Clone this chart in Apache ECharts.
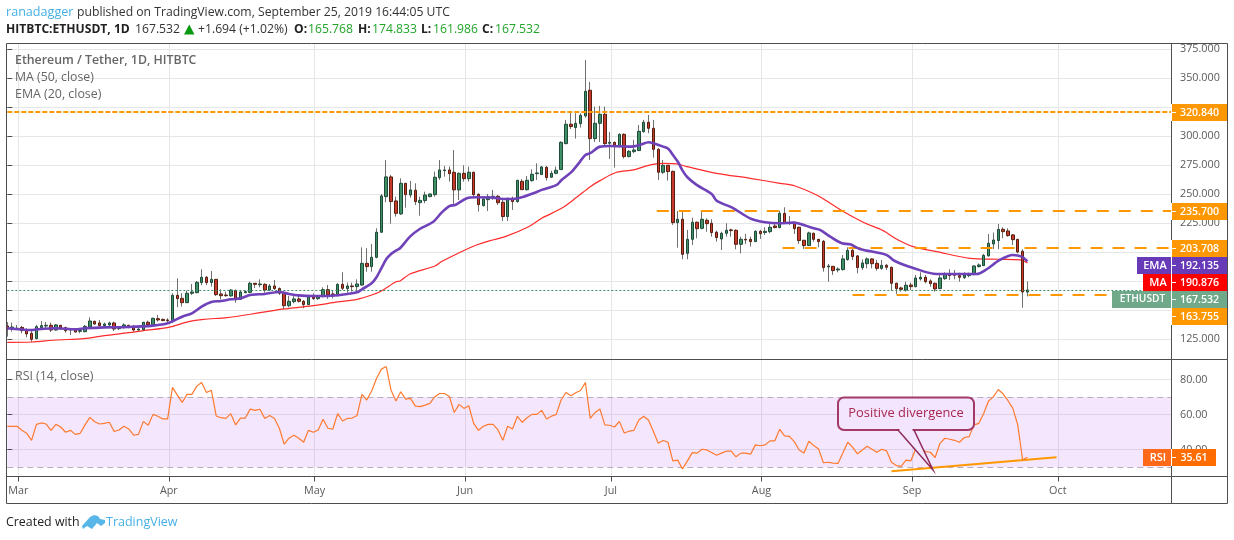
<!DOCTYPE html>
<html><head><meta charset="utf-8">
<style>html,body{margin:0;padding:0;background:#fff}#c{width:1234px;height:540px}</style>
<script src="https://cdn.jsdelivr.net/npm/echarts@6/dist/echarts.min.js"></script>
</head><body><div id="c"></div>
<script>
// ---- values ----
// the x axis counts days from 27 Feb 2019
const lastShownDay = 239.55;
const monthStartDays = [2,33,63,94,124,155,186,216];
const monthNames = ['Mar','Apr','May','Jun','Jul','Aug','Sep','Oct'];
const priceTicks = [125,150,175,200,225,250,275,300,325,350,375];
const priceTickLabels = [125,150,175,200,225,250,275,300,350,375];
const rsiTicks = [40,60,80];
// daily open, close, low, high
const ohlc = [
[136.5,133.9,127.3,139.9],[133.9,135.6,131.6,139.4],[133.9,134.5,133,137.4],[135.3,132.5,130.2,136.5],[133,129.6,126.7,134.5],
[130.2,125,122.7,133],[125.6,135.9,125,137.4],[135.1,136.8,133,140.8],[136.5,137.1,134.5,139.9],[137.1,133,131.3,139.4],
[133,137.4,132.5,138.2],[137.1,134.5,133,137.1],[135.1,132.5,130.7,135.9],[133,133.6,128.7,134.5],[133.3,131.3,130.7,134.5],
[131.9,132.5,130.2,134.5],[131.6,136.2,131,137.4],[135.6,140.8,134.5,144],[140.5,138.2,137.4,141.1],[139.1,136.8,135.3,141.7],
[136.8,138.2,135.9,139.4],[137.4,139.1,135.3,140.2],[139.1,133.9,132.2,140.2],[134.2,135.3,133,136.5],[135.1,137.4,134.2,138.8],
[137.1,135.3,134.5,137.4],[136.2,133,131.6,137.4],[133,133.9,132.5,134.5],[133.3,139.7,132.5,139.9],[139.7,137.4,136.5,141.1],
[137.4,143.1,137.1,143.7],[142.8,141.7,140.2,146],[142.2,141.1,140.8,142.8],[141.7,141.1,138.2,143.1],[140.2,162.9,139.4,164.7],
[162.9,160.1,152.6,177.6],[160.3,156.6,153.2,164.7],[156.6,164.7,156.6,167],[164.7,165.8,163.2,172.7],[165.2,174.1,164.7,175.3],
[173.9,178.5,171.6,185.4],[178.5,173.9,171.8,179.6],[173.9,176.7,170.4,183.9],[176.7,163.5,162.4,176.7],[164.1,162.6,159.5,168.1],
[163.2,162.6,161.8,166.1],[162.4,167.5,161.8,168.1],[167,159.2,156.6,168.1],[159.5,165.8,158.9,166.7],[165.2,166.1,164.7,167],
[165.5,173.3,164.7,174.7],[173.3,172.4,169.3,173.3],[172.1,172.7,169.8,176.7],[172.4,167.5,165.2,173.3],[167.5,171,167,172.7],
[171,168.7,167.5,176.2],[168.7,164.7,163.2,169.8],[164.7,154,150.9,166.1],[154,157.8,152.6,162.4],[157.5,159.8,156,162.4],
[159.8,157.8,156.6,163.2],[157.8,154.9,151.7,158.9],[154.9,162.1,154.6,163.2],[162.1,160.1,158.9,164.7],[160.1,161.8,158.9,162.9],
[161.8,167.8,161.2,169.8],[167.8,163.2,159.8,171.8],[164.1,162.4,160.3,167],[162.9,172.4,161.8,173.3],[172.4,169,167.5,182.8],
[168.7,171,165.2,173.9],[171,170.4,166.1,173.9],[170.4,172.7,166.1,176.7],[171.8,190.5,171,204.3],[190.5,187.7,183.3,203.5],
[187.7,195.7,183.3,207.2],[195.7,217.3,194.8,220.7],[217.3,248.6,217,250.3],[248,265,243.1,279.6],[265,243.7,224.7,266.7],
[244.3,233.6,230.8,248],[233.1,259.5,232.2,263.8],[259.5,249.7,238.5,259.5],[249.4,253.8,247.1,261.5],[253.5,243.7,240.8,259.5],
[242.8,244.8,231.6,248],[244.6,249.4,242.3,252.3],[248,250.3,247.5,250.5],[249.7,264.7,248,269.6],[264.4,271,262.4,279.6],
[270.4,271,265.2,274.4],[271,267.8,260.9,273.9],[269,253.8,240.8,288.2],[253.8,268.1,245.1,268.7],[268.1,263.5,260.9,275],
[263.5,269,260.9,273.9],[269,249.7,248,269.6],[250,241.1,235.1,250.9],[240.2,246,239.4,248],[245.4,248,235.6,250.3],
[247.4,248.3,245.1,253.8],[248.3,242.8,240.8,249.4],[243.1,230.8,227,245.1],[230.8,246.6,227,247.1],[246.6,243.7,236.5,248],
[243.7,262.1,242.8,262.4],[261.2,254,253.8,263],[254,262.1,253.2,265.8],[261.8,267.3,260.9,271.6],[267.8,268.4,262.4,276.7],
[267,273.6,266.7,274.4],[273.3,264.4,261.8,274.4],[264.7,268.1,264.1,270.4],[268.1,270.7,267.3,273.9],[271.3,294.8,271,295.7],
[293.7,310.4,293.1,314.1],[310.4,308.4,306.3,321.9],[307.5,311.2,298,319.9],[310.9,318.1,307.5,319.9],[317.6,338.8,316.1,365.8],
[339.7,298,279.6,346.9],[298,311.2,295.1,325.6],[311.2,319,295.1,326.2],[319,293.7,291.1,325.6],[294,294.8,280.5,303.8],
[294.8,291.4,273,295.4],[291.1,301.7,290.5,302.6],[301.7,282.5,280.8,302.6],[282.5,287.1,281.9,288.2],[286.8,288.2,285.4,296.9],
[287.7,304.3,287.4,309.8],[304,312.1,303.2,314.1],[312.1,306.9,302.6,318.4],[306.9,288.8,281.6,314.1],[288.8,269,262.4,289.7],
[269,275,267.5,279.6],[275,269.6,261.8,275.3],[269.8,225.6,223.6,270.4],[225.6,228.5,204,235.6],[228.5,198.3,194,235],
[199.1,211.2,194,219.3],[211.2,225.9,206.3,229.9],[225.9,220.4,212.1,226.5],[220.7,228.5,219.8,236.5],[227.6,224.7,217.8,229.3],
[225,217,213.5,228.5],[217.3,212.7,209.2,218.7],[211.5,216.4,202,217.8],[216.4,219,213.5,225],[219.3,218.7,213.5,220.4],
[219,206.9,202.6,219.8],[206.9,211.2,199.1,213.5],[211.2,210.6,207.2,215.8],[211.2,209.2,204.9,213.5],[209.2,218.1,208.9,219],
[218.1,216.1,211.5,219.3],[217,218.1,215,221.6],[217.8,221.6,216.4,224.4],[222.7,221.3,220.7,225.6],[221.3,233.6,220.7,235.9],
[233.6,225.3,224.4,238.8],[225.6,225,223.6,231.3],[225.6,220.4,215.8,226.5],[221.6,210.1,207.2,222.1],[210.4,205.8,202.9,210.6],
[205.8,216.7,205.5,217.8],[216.4,211.2,209.2,217],[211.2,209.2,204.3,211.5],[209.5,186.8,183.3,210.6],[187.4,188.2,174.7,190],
[187.9,184.2,180.5,188.2],[184.8,185.6,182.8,187.1],[185.1,194.3,184.2,197.7],[193.7,201.7,192.8,204.3],[201.7,196.3,193.4,203.2],
[196.9,186.8,181.9,197.7],[186.8,190.8,184.8,194],[190.2,194.3,186.2,195.7],[194.3,190.2,186.2,194.8],[190.5,186.2,184.2,193.4],
[186.2,188.8,184.8,193.4],[188.8,187.1,184.8,190],[187.1,173.3,167,187.7],[173.3,168.7,164.1,173.9],[169.3,168.1,166.1,170.4],
[167.5,171.6,166.1,174.7],[171.8,170.4,167.5,173.9],[170.4,177.9,169.8,180.5],[177,178.5,175.6,182.8],[178.5,174.7,173.3,180.5],
[175.3,173,170.4,176.7],[173.3,168.4,166.1,173.9],[168.7,177.9,168.4,180.8],[177.3,181,176.2,182.8],[181,179.9,176.2,185.4],
[181,180.2,176.7,184.8],[179.9,178.5,174.7,182.5],[178.2,180.5,177,182.8],[179.9,181,178.5,182.5],[180.8,188.2,180.2,188.8],
[187.7,189.1,186.8,190.5],[188.5,197.4,188.2,198.6],[196.9,207.8,196.3,215.8],[207.2,210.6,202.9,217],[210.1,219.8,202.6,224.4],
[219.8,217.8,212.1,221.6],[218.4,214.4,213.5,220.7],[215,210.9,206.3,215.8],[211.2,200.3,199.1,211.5],[200.9,165.8,152.3,202.6],
[165.768,167.532,161.986,174.833]
];
// moving averages read at the day offsets listed beside them
const emaDays = [0,5,6,10,14,16,20,25,30,33,36,38,40,42,44,46,48,50,53,56,58,60,63,66,70,72,73,75,76,77,78,79,80,80.84,82.9,84.9,87.7,89.4,91.1,92.2,94.6,96.6,100,102.1,104.2,105.9,108.3,110,113.1,114.1,116.2,117.9,119,120,122,124.1,128.2,130.2,132,133,135,136.1,137.1,138.1,139,140,141.9,145,146,149.5,152.9,156,159.1,161.8,166,167.3,169.4,171.8,173.5,175.5,181,182.7,186.5,191.3,199.5,201.6,204.3,207,208.8,210];
const emaValues = [134.5,133,133.6,134.5,133.6,134.5,135.3,135.6,136.8,138.8,144.5,147.4,153.2,157.2,158,159.5,160.3,163.2,164.1,165.8,164.1,162.9,162.4,162.4,164.1,165.5,168.1,173.3,178.5,186.2,194,198.6,201.4,203.5,213.5,220.1,226.4,234.2,240,240.8,246.6,247.4,247.1,246,246,247.4,250.9,253.8,258.1,262.4,269.6,278.2,283.9,285.4,291.1,291.7,291.1,292.6,294.9,294,291.1,289.1,283.4,277.6,270.4,264.7,258.1,250.3,244.6,237.9,229.3,225.9,225,225.6,220.7,219.3,213.5,207.8,206.9,202.9,197.7,192.5,186.5,181.3,181.3,185.4,193.4,197.7,196.3,192.135];
const maDays = [0,5,10,15.7,20,25,28,33.2,37.3,40.4,45.2,50,53.4,57,60,63,68,72,75,77,80,80.84,82.9,88.05,89.4,93.9,96.6,99.4,102.5,107.3,110,114.1,117.2,120,122,125.4,128.9,132,135,137.8,139.9,146,152.9,159.06,162.15,166.6,169.4,172.1,176.2,180.3,183,186.5,191.3,198.2,204.3,208.5,210];
const maValues = [122.4,122.7,124.4,125.6,128.2,130.7,132.5,135.3,140.2,142.2,143.7,146.6,148.9,151.2,152.6,154,157.2,159.5,163.2,166.7,174.7,175.3,181.3,188.2,192,201.4,206.3,210.1,213.5,222.1,229.3,237.9,247.4,256.6,261.8,269,271,275,276.7,276.2,273.9,268.1,263.8,259.5,257.2,249.4,242.3,235.1,225.9,218.7,211.5,204.9,200.6,194.8,194,193.4,190.876];
const rsiValues = [53.3,53.3,53.3,51,49.3,45.3,54.4,55.2,54.6,51,54.4,52.9,49.9,51,48.7,49.3,54.1,58.4,55.9,54.6,55,55.6,50.3,51.2,53.3,51.8,48.2,48.7,56.1,53.9,60.1,59,57.5,57.5,75.5,71.1,66.9,71.5,71.5,76.2,78.3,72.6,73.9,59.2,58.2,57.8,60.5,54.1,58,58,63.1,62.4,63,57.8,59.5,57.8,52.2,43.1,46.5,48.2,46.5,44.2,51,49.9,51.2,57.3,52.2,51.6,60.5,56.3,57.8,58,59.5,71.5,68.3,73.4,80.6,85.9,87.4,73.9,67.7,73,68.8,69.2,64.8,
64.5,65.4,66.4,70.2,72,72,70.3,61.2,65.8,63.5,65,55,51,53.3,54.4,54.4,51.2,45.3,53.3,51.8,59,55.6,58.2,60.1,60.1,62.4,57.5,59,60.1,68.3,72.6,70.7,72.4,73.7,78.3,57.8,61.2,63.1,54.1,53.9,52.9,56.1,49.5,50.5,51,56.9,59,56.7,50.3,43.6,45.2,44.2,33.6,34,28.9,33.6,38.3,38,40.2,39.8,38.3,36.8,38,39.1,39.1,35.9,38,38,37.4,42.7,42.2,42.7,45,45,51.6,47.8,47.6,44.6,
39.8,38.1,44.8,42.3,40.4,32.5,32.8,32.3,32.1,38,44.2,41.4,37.6,39.8,41.9,40.2,38.5,40.2,39.3,32.8,30.9,30.4,34,33.6,40.4,41,38.9,38.5,35.5,43.6,46.5,45.9,45.3,44.2,46.9,47.4,54.1,55,60.7,67.7,70.2,74.3,71.7,67.9,63.5,54.1,34.2,35.61];
const lastClose = 167.532;
const levels = [[320.84,0],[235.7,133.7],[203.708,159.6],[163.755,174]]; // price, first day offset
const rsiBand = [30,70];
const rsiTrend = [[182,27.7],[216,35.7]]; // day offset, RSI

// ---- helpers and styling ----
const tickDays = monthStartDays.map(d => d + 0.25);
const FONT = '"Open Sans", sans-serif';
const C = {grid:'#e6e6e6', frame:'#4e4e4e', text:'#5a5a5a', orange:'#ff9800', gold:'#ff9800'};

const wicks = ohlc.map((r,i) => [i, r[0], r[1], r[2], r[3]]);
const bodies = ohlc.map((r,i) => [i, r[0], r[1], Math.min(r[0],r[1]), Math.max(r[0],r[1])]);
const ema = emaDays.map((d,i) => [d, emaValues[i]]);
const ma = maDays.map((d,i) => [d, maValues[i]]);
const rsi = rsiValues.map((v,i) => [i, v]);

const levelLines = levels.map(([p,d],k) => ([
  {coord:[d,p], lineStyle:{color:C.orange,width:2,type:k===0?[5,2]:[12,10]}},
  {coord:[lastShownDay,p]}
]));

// ---- page furniture (frame, text, price tags) ----
const g = [];
const txt = (x,y,s,o={}) => g.push({type:'text',x,y,z:100,silent:true,style:{text:s,font:`${o.w||'normal'} ${o.size||12}px ${FONT}`,fill:o.c||'#333',textVerticalAlign:'middle',textAlign:o.align||'left'}});
const line = (x1,y1,x2,y2,c,w=1,z=90) => g.push({type:'line',z,silent:true,shape:{x1,y1,x2,y2},style:{stroke:c,lineWidth:w}});
// frame
line(6.5,43.5,1227.5,43.5,C.frame); line(6.5,359.5,1227.5,359.5,C.frame); line(6.5,476.5,1227.5,476.5,C.frame); line(6.5,503.5,1227.5,503.5,C.frame);
line(6.5,43.5,6.5,503.5,C.frame); line(1171.5,43.5,1171.5,503.5,C.frame); line(1227.5,43.5,1227.5,503.5,C.frame);
// header
txt(6,12.5,'ranadagger',{c:'#45b0e6',size:12.6});
txt(77,12.5,'published on TradingView.com, September 25, 2019 16:44:05 UTC',{size:12.2});
txt(6,29.5,'HITBTC:ETHUSDT, 1D',{w:'bold',size:12.1,c:'#222'});
txt(135,29.5,'167.532',{size:12.2});
g.push({type:'polygon',z:100,silent:true,shape:{points:[[184,34.5],[194.5,34.5],[189.25,24.5]]},style:{fill:'#0a9a12'}});
txt(198,29.5,'+1.694 (+1.02%)',{size:12.2});
[[294,'O:',308,'165.768'],[358,'H:',372,'174.833'],[421,'L:',433,'161.986'],[482,'C:',495,'167.532']].forEach(a=>{
  txt(a[0],29.5,a[1],{w:'bold',size:12.1,c:'#222'}); txt(a[2],29.5,a[3],{size:12.2,c:'#22a52a'});
});
// legends
txt(15,60.5,'Ethereum / Tether, 1D, HITBTC',{size:12.35,w:'600',c:'#666'});
txt(15,77.5,'MA (50, close)',{size:12.3,c:'#666'});
txt(15,94.5,'EMA (20, close)',{size:12.4,c:'#666'});
txt(15,376,'RSI (14, close)',{size:12.4,c:'#666'});
// footer
txt(6,522,'Created with',{size:12.4,c:'#222'});
g.push({type:'polygon',z:100,silent:true,shape:{points:[[82,526],[90,517],[94,515],[98,516],[100,519],[105,520],[105,523],[101,526],[97,523],[92,529],[87,526],[83,529]]},style:{fill:'#58b7e8'}});
txt(106,522,'TradingView',{size:12.5,c:'#45b0e6'});
// price tags
const tag = (x,y,w,h,fill,s,size) => {
  g.push({type:'rect',z:95,silent:true,shape:{x,y,width:w,height:h},style:{fill}});
  txt(x+w/2+(size?1:0),y+h/2,s,{w:'600',size:size||10.6,c:'#fff',align:'center'});
  if(!size){ line(1172,y+h/2,1176,y+h/2,'#fff',1,96); line(1171.5,y,1171.5,y+h,'#fff',1,96); }
};
tag(1172,104,55,17,C.gold,'320.840');
tag(1172,203,55,17,C.gold,'235.700');
tag(1172,240,55,17,C.gold,'203.708');
tag(1137,257,34,17,'#673ab7','EMA',11); tag(1172,257,55,17,'#673ab7','192.135');
tag(1143,274,28,17,'#ff0000','MA',11); tag(1172,274,55,17,'#ff0000','190.876');
tag(1112,291,59,17,'#6fa98a','ETHUSDT',10.2); tag(1172,291,55,17,'#6fa98a','167.532');
tag(1172,308,55,17,C.gold,'163.755');
tag(1143,449,28,17,'#ff6a1a','RSI',11); tag(1172,449,44,17,'#ff6d00','35.61');
// callout
g.push({type:'polygon',z:96,silent:true,shape:{points:[[898,430],[933,470],[914,430]]},style:{fill:'#f3e5fd',stroke:'#8e2b57',lineWidth:1.5}});
g.push({type:'rect',z:95,silent:true,shape:{x:838,y:397.5,width:136,height:32.5,r:6},style:{fill:'#f3e5fd',stroke:'#a33a66',lineWidth:2}});
line(899.5,430,912.5,430,'#f3e5fd',2.5,97);
txt(906,413,'Positive divergence',{size:12.9,c:'#a8274f',align:'center'});

const chart = echarts.init(document.getElementById('c'),null,{renderer:'canvas'});
const xBase = {type:'value',min:0,max:lastShownDay,
  axisLine:{show:false},
  axisTick:{show:false,customValues:tickDays},
  axisLabel:{show:false,customValues:tickDays},
  splitLine:{show:true,lineStyle:{color:C.grid,width:1}}};
chart.setOption({
  animation:false, backgroundColor:'#fff',
  textStyle:{fontFamily:FONT},
  grid:[{left:7.3,width:1163.7,top:43.5,height:316},{left:7.3,width:1163.7,top:359.5,height:117}],
  xAxis:[
    Object.assign({},xBase,{gridIndex:0}),
    Object.assign({},xBase,{gridIndex:1,
      axisTick:{show:true,length:5,lineStyle:{color:C.frame},customValues:tickDays},
      axisLabel:{show:true,color:C.text,fontSize:10.8,margin:9,fontFamily:FONT,customValues:tickDays,
        formatter:v=>monthNames[tickDays.indexOf(+v)]||''}})
  ],
  yAxis:[
    {gridIndex:0,type:'value',position:'right',min:107.6,max:380,
     axisLine:{show:false},
     axisTick:{show:true,length:5,lineStyle:{color:C.frame},customValues:priceTicks},
     axisLabel:{color:C.text,fontSize:10.8,margin:9,padding:[4,0,0,0],fontFamily:FONT,customValues:priceTickLabels,formatter:v=>(+v).toFixed(3)},
     splitLine:{show:true,lineStyle:{color:C.grid,width:1}}},
    {gridIndex:1,type:'value',position:'right',min:24.66,max:91.4,
     axisLine:{show:false},
     axisTick:{show:true,length:5,lineStyle:{color:C.frame},customValues:rsiTicks},
     axisLabel:{color:C.text,fontSize:10.8,margin:9,padding:[4,0,0,0],fontFamily:FONT,customValues:rsiTicks,formatter:v=>(+v).toFixed(2)},
     splitLine:{show:true,lineStyle:{color:C.grid,width:1}}}
  ],
  graphic:{elements:g},
  series:[
    {type:'line',name:'MA',xAxisIndex:0,yAxisIndex:0,data:ma,showSymbol:false,smooth:0.3,z:3,
     lineStyle:{color:'#ff2a2a',width:1.2},
     markLine:{silent:true,symbol:'none',label:{show:false},animation:false,
       data:[...levelLines,
        [{coord:[0,lastClose],lineStyle:{color:'#3b8a66',width:1,type:[2,2]}},{coord:[lastShownDay,lastClose]}]]}},
    {type:'candlestick',name:'wicks',xAxisIndex:0,yAxisIndex:0,data:wicks,encode:{x:0,y:[1,2,3,4]},barWidth:1,z:2,
     itemStyle:{color:'#707070',color0:'#707070',borderColor:'#707070',borderColor0:'#707070',borderWidth:1}},
    {type:'candlestick',name:'ETHUSDT',xAxisIndex:0,yAxisIndex:0,data:bodies,encode:{x:0,y:[1,2,3,4]},barWidth:3,z:4,
     itemStyle:{color:'#3f8f66',color0:'#c8392b',borderColor:'#1f4a38',borderColor0:'#52200f',borderWidth:1}},
    {type:'line',name:'EMA',xAxisIndex:0,yAxisIndex:0,data:ema,showSymbol:false,smooth:0.3,z:5,
     lineStyle:{color:'#6f42ba',width:2.6}},
    {type:'line',name:'RSI',xAxisIndex:1,yAxisIndex:1,data:rsi,showSymbol:false,z:5,
     lineStyle:{color:'#ff7a2e',width:1.2},
     markArea:{silent:true,itemStyle:{color:'rgba(155,48,240,0.12)'},label:{show:false},
       data:[[{yAxis:rsiBand[1]},{yAxis:rsiBand[0]}]]},
     markLine:{silent:true,symbol:'none',label:{show:false},
       data:[
        {yAxis:rsiBand[1],lineStyle:{color:'#b9aebd',width:1,type:[6,4]}},
        {yAxis:rsiBand[0],lineStyle:{color:'#b9aebd',width:1,type:[6,4]}},
        [{coord:[rsiTrend[0][0],rsiTrend[0][1]],lineStyle:{color:C.orange,width:2,type:'solid'}},
         {coord:[rsiTrend[1][0],rsiTrend[1][1]]}]
       ]}}
  ]
});
</script></body></html>
